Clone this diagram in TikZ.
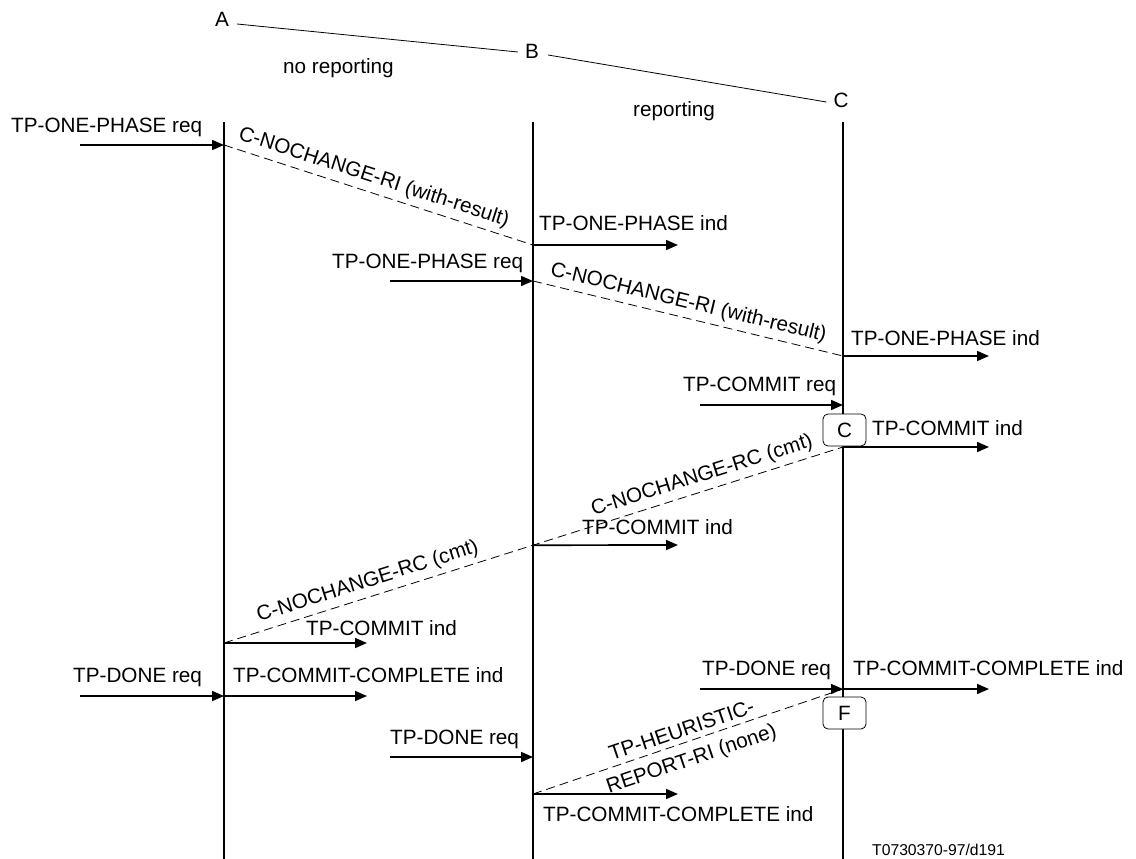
\documentclass[tikz,border=0pt]{standalone}
\usepackage{fontspec}
\setmainfont{Liberation Sans}
\usetikzlibrary{arrows.meta}
\begin{document}
\begin{tikzpicture}[x=1pt,y=-1pt,
  every node/.style={font=\fontsize{20.7}{25}\selectfont, inner sep=0pt},
  life/.style={line width=1.7pt},
  msg/.style={line width=1.7pt,-{Triangle[length=12pt,width=10pt]}},
  dsh/.style={line width=0.8pt,dash pattern=on 9pt off 5pt},
  topline/.style={line width=0.8pt},
  lbl/.style={anchor=base west},
  dlbl/.style={above=5pt,sloped},
  statebox/.style={draw,line width=0.8pt,rounded corners=5pt,fill=white,minimum width=43pt,minimum height=32pt}]
\useasboundingbox (0,0) rectangle (1136,859);

% party labels and top line
\node (labA) at (222,19) {A};
\node (labB) at (532,51) {B};
\node (labC) at (841,100) {C};
\draw[topline] ([xshift=8pt,yshift=-5pt]labA.east) -- ([xshift=-7pt,yshift=-1pt]labB.west);
\draw[topline] ([xshift=9pt,yshift=-4pt]labB.east) -- ([xshift=-7pt,yshift=-2pt]labC.west);
\node[lbl] (noRep) at (283,74) {no reporting};
\node[lbl] (rep) at (633,117) {reporting};

% lifelines
\coordinate (Atop) at (224,122); \coordinate (Abot) at (224,859);
\coordinate (Btop) at (533,122); \coordinate (Bbot) at (533,859);
\coordinate (Ctop) at (843,122); \coordinate (Cbot) at (843,859);
\draw[life] (Atop) -- (Abot);
\draw[life] (Btop) -- (Bbot);
\draw[life] (Ctop) -- (Cbot);

% event points
\coordinate (s1) at (80,145);  \coordinate (a1) at (224,145);
\coordinate (b1) at (533,245); \coordinate (e1) at (678,245);
\coordinate (s2) at (390,281); \coordinate (b2) at (533,281);
\coordinate (c2) at (843,356); \coordinate (e2) at (989,356);
\coordinate (s3) at (700,405); \coordinate (c3) at (843,405);
\coordinate (c4) at (843,447); \coordinate (e4) at (989,447);
\coordinate (b4) at (533,545.2); \coordinate (e5) at (678,545);
\coordinate (a4) at (224,643); \coordinate (e6) at (367,643);
\coordinate (s7) at (80,696);  \coordinate (a7) at (224,696); \coordinate (e7) at (367,696);
\coordinate (s8) at (700,689); \coordinate (c8) at (843,689); \coordinate (e8) at (989,689);
\coordinate (s9) at (390,757); \coordinate (b9) at (533,757);
\coordinate (b10) at (533,794); \coordinate (e10) at (678,794);

% TP-ONE-PHASE
\node[lbl] (t1) at (11,132) {TP-ONE-PHASE req};
\draw[msg] (s1) -- (a1);
\draw[dsh] (a1) -- node[dlbl,pos=0.47] {C-NOCHANGE-RI (with-result)} (b1);
\node[lbl] (t2) at (539,230) {TP-ONE-PHASE ind};
\draw[msg] (b1) -- (e1);
\node[lbl] (t3) at (332,268) {TP-ONE-PHASE req};
\draw[msg] (s2) -- (b2);
\draw[dsh] (b2) -- node[dlbl,pos=0.49] {C-NOCHANGE-RI (with-result)} (c2);
\node[lbl] (t4) at (851,345) {TP-ONE-PHASE ind};
\draw[msg] (c2) -- (e2);

% TP-COMMIT
\node[lbl] (t5) at (683,391) {TP-COMMIT req};
\draw[msg] (s3) -- (c3);
\node[statebox] (boxC) at (844.5,430) {C};
\node[lbl] (t6) at (872,435) {TP-COMMIT ind};
\draw[msg] (c4) -- (e4);
\draw[dsh] (a4) -- node[dlbl,pos=0.48] {C-NOCHANGE-RC (cmt)} (b4) -- node[dlbl,pos=0.56] {C-NOCHANGE-RC (cmt)} (c4);
\node[lbl] (t7) at (582,534) {TP-COMMIT ind};
\draw[msg] (b4) -- (e5);
\node[lbl] (t8) at (306,635) {TP-COMMIT ind};
\draw[msg] (a4) -- (e6);

% TP-DONE
\node[lbl] (t9) at (73,682) {TP-DONE req};
\draw[msg] (s7) -- (a7);
\node[lbl] (t10) at (233,682) {TP-COMMIT-COMPLETE ind};
\draw[msg] (a7) -- (e7);
\node[lbl] (t11) at (702,675) {TP-DONE req};
\draw[msg] (s8) -- (c8);
\node[lbl] (t12) at (853,675) {TP-COMMIT-COMPLETE ind};
\draw[msg] (c8) -- (e8);
\node[statebox] (boxF) at (844.5,713) {F};
\node[lbl] (t13) at (390,744) {TP-DONE req};
\draw[msg] (s9) -- (b9);
\draw[dsh] (b10) -- (c8);
\node[rotate=18.7,align=center,font=\fontsize{20.7}{30}\selectfont] (heur) at (687,746) {TP-HEURISTIC-\\REPORT-RI (none)};
\node[lbl] (t14) at (543,821) {TP-COMMIT-COMPLETE ind};
\draw[msg] (b10) -- (e10);

\node[lbl,font=\fontsize{15.7}{18}\selectfont] (ref) at (872,855) {T0730370-97/d191};
\end{tikzpicture}
\end{document}
